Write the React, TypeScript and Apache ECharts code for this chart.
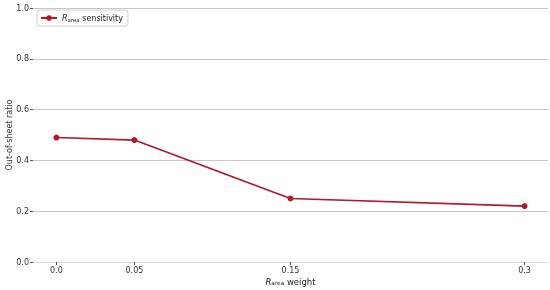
import React, { useEffect, useRef } from "react";
import * as echarts from "echarts";

const xValues = [0.0, 0.05, 0.15, 0.3];
const xTickLabels = ["0.0", "0.05", "0.15", "0.3"];
const sensitivity = [0.49, 0.48, 0.25, 0.22];
const yTicks = [0, 0.2, 0.4, 0.6, 0.8, 1.0];

export default function App() {
  const ref = useRef<HTMLDivElement>(null);
  useEffect(() => {
    if (!ref.current) return;
    const chart = echarts.init(ref.current, null, { renderer: "svg" });
    const font = "DejaVu Sans";
    const richOf = (size: number) => ({
      i: { fontStyle: "italic", fontSize: size, fontFamily: font, color: "#222" },
      s: { fontSize: size * 0.68, fontFamily: font, color: "#222", padding: [size * 0.4, 0, 0, 0] },
      t: { fontSize: size, fontFamily: font, color: "#222" },
    });
    chart.setOption({
      animation: false,
      textStyle: { fontFamily: font },
      grid: {
        left: 33,
        right: 2,
        top: 8,
        bottom: 28,
        containLabel: false,
        outerBoundsMode: "none",
      },
      legend: {
        left: 37,
        top: 10,
        orient: "vertical",
        backgroundColor: "#fff",
        borderColor: "#d0d0d0",
        borderWidth: 1,
        borderRadius: 3,
        padding: [4, 5, 4, 3],
        itemWidth: 16,
        itemHeight: 7,
        itemGap: 4,
        formatter: () => "{i|R}{s|area}{t| sensitivity}",
        textStyle: { rich: richOf(8), fontSize: 8, color: "#222" },
        data: ["sens"],
      },
      xAxis: {
        type: "value",
        min: -0.015,
        max: 0.315,
        name: "{i|R}{s|area}{t| weight}",
        nameLocation: "middle",
        nameGap: 15,
        nameMoveOverlap: false,
        nameTextStyle: { rich: richOf(8.5) },
        axisLine: { show: true, onZero: false, lineStyle: { color: "#dddddd", width: 1 } },
        axisTick: {
          show: true,
          customValues: xValues,
          length: 3,
          lineStyle: { color: "#555" },
        },
        axisLabel: {
          customValues: xValues,
          fontSize: 8,
          color: "#333",
          margin: 4,
          formatter: (v: number) => {
            const idx = xValues.findIndex((x) => Math.abs(x - v) < 1e-9);
            return idx >= 0 ? xTickLabels[idx] : "";
          },
        },
        splitLine: { show: false },
      },
      yAxis: {
        type: "value",
        min: 0,
        max: 1,
        interval: 0.2,
        name: "Out-of-sheet ratio",
        nameLocation: "middle",
        nameGap: 20,
        nameMoveOverlap: false,
        nameTextStyle: { fontSize: 8, color: "#333" },
        axisLine: { show: false, onZero: false },
        axisTick: { show: true, length: 3, lineStyle: { color: "#555" } },
        axisLabel: {
          fontSize: 8,
          color: "#333",
          margin: 4,
          formatter: (v: number) => {
            const t = yTicks.find((y) => Math.abs(y - v) < 1e-9);
            return t !== undefined ? t.toFixed(1) : "";
          },
        },
        splitLine: { show: true, lineStyle: { color: "#c8c8c8", width: 1 } },
      },
      series: [
        {
          name: "sens",
          type: "line",
          data: xValues.map((x, i) => [x, sensitivity[i]]),
          color: "#b2182b",
          lineStyle: { width: 1.6, color: "#b2182b" },
          symbol: "circle",
          symbolSize: 6,
          itemStyle: { color: "#b2182b" },
        },
      ],
    });
    return () => chart.dispose();
  }, []);
  return (
    <div
      ref={ref}
      style={{ position: "fixed", left: 0, top: 0, width: 550, height: 290 }}
    />
  );
}
